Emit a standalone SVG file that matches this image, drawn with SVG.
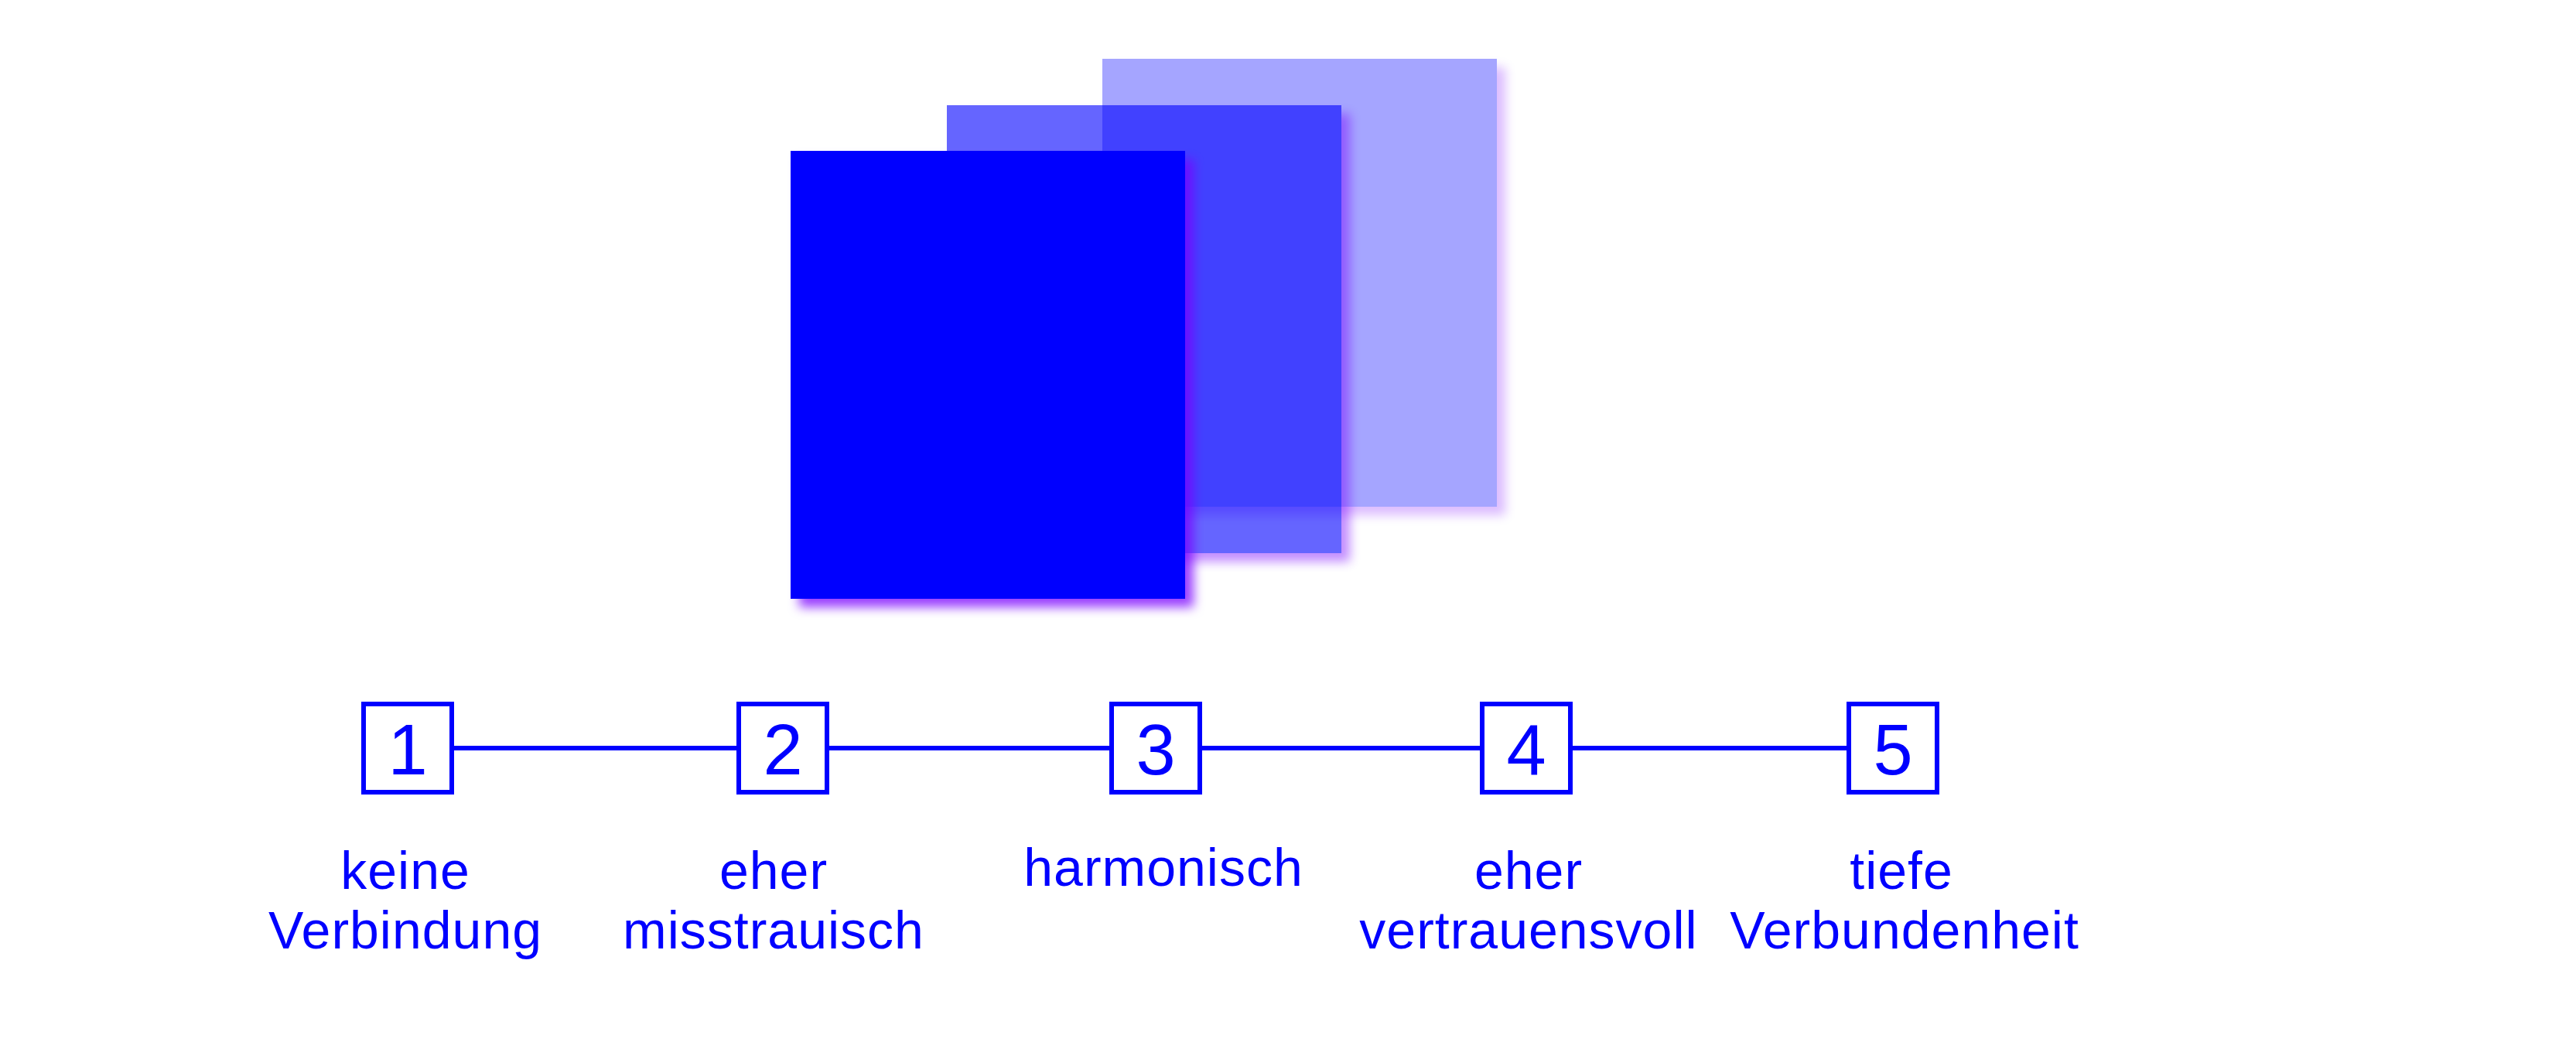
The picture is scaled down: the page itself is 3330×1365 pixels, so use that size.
<svg xmlns="http://www.w3.org/2000/svg" width="3330" height="1365" viewBox="0 0 3330 1365">
<defs>
<filter id="sh" x="-10%" y="-10%" width="130%" height="130%">
<feDropShadow dx="11" dy="11" stdDeviation="7" flood-color="#7A00FF" flood-opacity="0.75"/>
</filter>
</defs>
<style>
.sq{fill:#0000FF}
.box{fill:#FFFFFF;stroke:#0000FF;stroke-width:6}
.num{font-family:"Liberation Sans",Arial,sans-serif;font-size:92px;fill:#0000FF;text-anchor:middle}
.lbl{font-family:"Liberation Sans",Arial,sans-serif;font-size:68px;fill:#0000FF;text-anchor:middle;letter-spacing:1px}
.con{stroke:#0000FF;stroke-width:6;fill:none}
</style>
<rect width="3330" height="1365" fill="#FFFFFF"/>
<g id="squares">
<g id="sq-back" opacity="0.35" filter="url(#sh)"><rect class="sq" x="1425" y="76" width="510" height="579"/></g>
<g id="sq-mid" opacity="0.6" filter="url(#sh)"><rect class="sq" x="1224" y="136" width="510" height="579"/></g>
<g id="sq-front" filter="url(#sh)"><rect class="sq" x="1022" y="195" width="510" height="579"/></g>
</g>
<g id="connectors">
<line class="con" x1="587" y1="967" x2="953" y2="967"/>
<line class="con" x1="1072" y1="967" x2="1434" y2="967"/>
<line class="con" x1="1554" y1="967" x2="1913" y2="967"/>
<line class="con" x1="2033" y1="967" x2="2387" y2="967"/>
</g>
<g id="node1">
<rect class="box" x="470" y="910" width="114" height="114"/>
<text class="num" x="527" y="1001">1</text>
<text class="lbl" x="524" y="1149">keine</text>
<text class="lbl" x="524" y="1226">Verbindung</text>
</g>
<g id="node2">
<rect class="box" x="955" y="910" width="114" height="114"/>
<text class="num" x="1012" y="1001">2</text>
<text class="lbl" x="1000" y="1149">eher</text>
<text class="lbl" x="1000" y="1226">misstrauisch</text>
</g>
<g id="node3">
<rect class="box" x="1437" y="910" width="114" height="114"/>
<text class="num" x="1494" y="1001">3</text>
<text class="lbl" x="1504" y="1145">harmonisch</text>
</g>
<g id="node4">
<rect class="box" x="1916" y="910" width="114" height="114"/>
<text class="num" x="1973" y="1001">4</text>
<text class="lbl" x="1976" y="1149">eher</text>
<text class="lbl" x="1976" y="1226">vertrauensvoll</text>
</g>
<g id="node5">
<rect class="box" x="2390" y="910" width="114" height="114"/>
<text class="num" x="2447" y="1001">5</text>
<text class="lbl" x="2458" y="1149">tiefe</text>
<text class="lbl" x="2462" y="1226">Verbundenheit</text>
</g>
</svg>
